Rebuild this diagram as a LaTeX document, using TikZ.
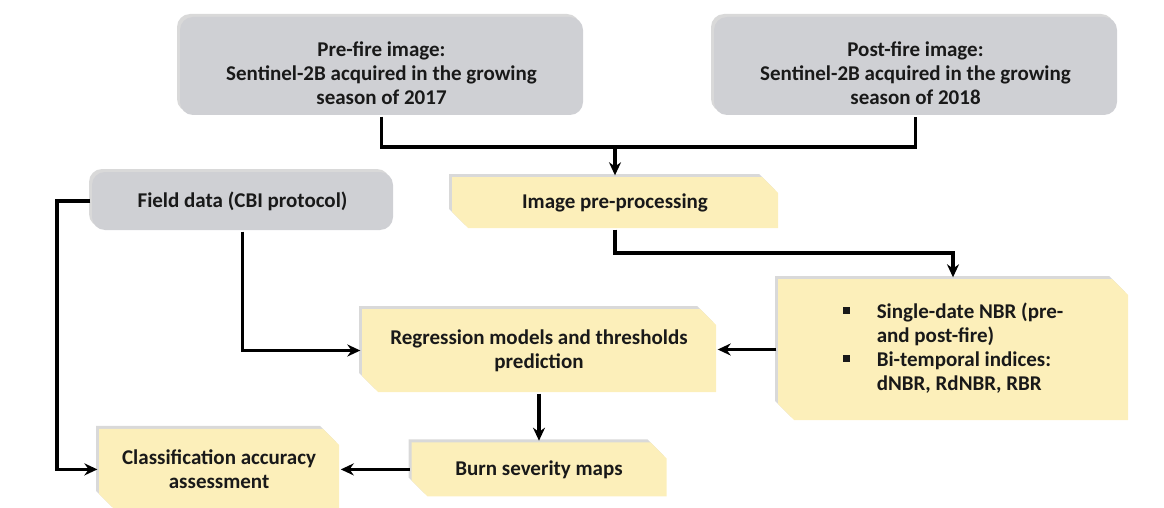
\documentclass[tikz,border=0pt]{standalone}
\usepackage{fontspec}
\setmainfont{Carlito}
\usetikzlibrary{arrows.meta,positioning,shapes.misc,shadows}
\definecolor{boxgray}{RGB}{207,208,212}
\definecolor{boxyellow}{RGB}{252,239,186}
\newcommand{\sqbullet}{\rule[4pt]{7pt}{7pt}}

\begin{document}
\begin{tikzpicture}
	[>={Stealth[length=13pt, width=12pt]}, x=1pt, y=-1pt, line width=3.4pt,
	 txt/.style={font=\bfseries\fontsize{21}{24}\selectfont, align=center, inner sep=0pt, text=black!90},
	 graybox/.style={txt, fill=boxgray, rounded corners=13pt,
		drop shadow={shadow xshift=-3pt, shadow yshift=3pt, opacity=.3}},
	 yellowbox/.style={txt, fill=boxyellow, chamfered rectangle,
		chamfered rectangle corners={south west,north east},
		chamfered rectangle xsep=8pt, chamfered rectangle ysep=8pt,
		drop shadow={shadow xshift=-3pt, shadow yshift=3pt, opacity=.3}}]
	\useasboundingbox (0,0) rectangle (1164,508);
	\node[graybox, minimum width=403pt, minimum height=98pt] (pre) at (381.5,66)
		{\rule{0pt}{30pt}Pre-fire image:\\Sentinel-2B acquired in the growing\\season of 2017};
	\node[graybox, minimum width=403pt, minimum height=98pt] (post) at (915.5,66)
		{\rule{0pt}{30pt}Post-fire image:\\Sentinel-2B acquired in the growing\\season of 2018};
	\node[graybox, minimum width=301pt, minimum height=58pt] (field) at (242.5,201)
		{Field data (CBI protocol)};
	\node[yellowbox, minimum width=326pt, minimum height=51pt] (img) at (615,202.5)
		{Image pre-processing};
	\node[yellowbox, minimum width=350pt, minimum height=141pt] (nbr) at (953,349.5)
		{\begin{tabular}{@{}c@{\hspace{27pt}}l@{}}
			\sqbullet & Single-date NBR (pre-\\
			 & and post-fire)\\
			\sqbullet & Bi-temporal indices:\\
			 & dNBR, RdNBR, RBR
		\end{tabular}};
	\node[yellowbox, minimum width=354pt, minimum height=83pt] (reg) at (539,350.5)
		{Regression models and thresholds\\prediction};
	\node[yellowbox, minimum width=255pt, minimum height=54pt] (burn) [below=47pt of reg]
		{Burn severity maps};
	\node[yellowbox, minimum width=240pt, minimum height=81pt] (class) [left=69pt of burn]
		{Classification accuracy\\assessment};
	% connectors
	\coordinate (join) at (615,147);
	\coordinate (bend) at (615,253);
	\coordinate (side) at (57,201);
	\draw (pre.south) |- (join) -| (post.south);
	\draw[->] (join) -- (img.north);
	\draw[->] (img.south) -- (bend) -| (nbr.north);
	\draw[->] (field.south) |- (reg.west);
	\draw[->] (field.west) -- (side) |- (class.west);
	\draw[->] (nbr.west) -- (nbr.west -| reg.east);
	\draw[->] (reg.south) -- (burn.north);
	\draw[->] (burn.west) -- (burn.west -| class.east);
\end{tikzpicture}
\end{document}
